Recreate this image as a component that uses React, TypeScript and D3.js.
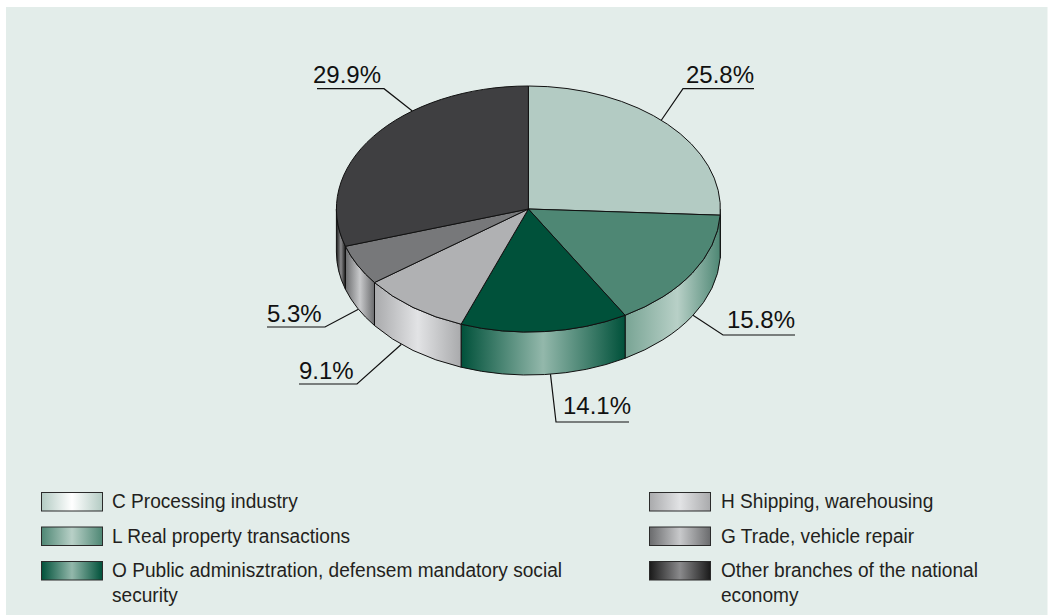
import React from "react";
import * as d3 from "d3";

// Share of each branch, clockwise from twelve o'clock
const branches = ["C", "L", "O", "H", "G", "Other"];
const shares = [25.8, 15.8, 14.1, 9.1, 5.3, 29.9];
const shareLabels = ["25.8%", "15.8%", "14.1%", "9.1%", "5.3%", "29.9%"];

const topColors = ["#b3cbc3", "#4e8774", "#00513a", "#b0b1b3", "#77787a", "#3f3f41"];
const sideEdgeColors = ["#b3cbc3", "#4e8774", "#00513a", "#a9aaac", "#6a6b6d", "#1a1a1a"];
const sideMidColors = ["#ffffff", "#b8d0c7", "#93b8ab", "#e2e3e5", "#c8c9cb", "#8a8a8c"];

const legendLeft = [
  { branch: 0, lines: ["C Processing industry"] },
  { branch: 1, lines: ["L Real property transactions"] },
  { branch: 2, lines: ["O Public adminisztration, defensem mandatory social", "security"] },
];
const legendRight = [
  { branch: 3, lines: ["H Shipping, warehousing"] },
  { branch: 4, lines: ["G Trade, vehicle repair"] },
  { branch: 5, lines: ["Other branches of the national", "economy"] },
];

// Pie geometry
const cx = 528.4;
const cy = 209;
const rx = 192;
const ry = 123;
const depth = 43;

// Leader lines: where each one leaves the rim, its elbow and the far end of the shelf
const leaders = [
  { branch: 0, deg: 43.8, drop: 0, elbow: [683, 88.7], end: 754, textX: 686, baseline: 83 },
  { branch: 1, deg: 121, drop: depth, elbow: [723, 335], end: 795, textX: 727, baseline: 328 },
  { branch: 2, deg: 173.4, drop: depth, elbow: [556, 422], end: 629, textX: 563, baseline: 414 },
  { branch: 3, deg: 221.4, drop: depth, elbow: [357, 384], end: 299, textX: 299, baseline: 379 },
  { branch: 4, deg: 242.3, drop: depth, elbow: [325, 327], end: 267, textX: 267, baseline: 322 },
  { branch: 5, deg: 322.8, drop: 0, elbow: [384, 88.7], end: 317, textX: 313, baseline: 83 },
];

const pieLayout = d3.pie<number>().sort(null).value((d) => d).startAngle(0).endAngle(2 * Math.PI);
const slices = pieLayout(shares);

const px = (a: number) => cx + rx * Math.sin(a);
const py = (a: number) => cy - ry * Math.cos(a);

function topPath(a0: number, a1: number) {
  const large = a1 - a0 > Math.PI ? 1 : 0;
  return `M${cx},${cy}L${px(a0)},${py(a0)}A${rx},${ry} 0 ${large} 1 ${px(a1)},${py(a1)}Z`;
}

function sidePath(a0: number, a1: number) {
  return (
    `M${px(a0)},${py(a0)}A${rx},${ry} 0 0 1 ${px(a1)},${py(a1)}` +
    `L${px(a1)},${py(a1) + depth}A${rx},${ry} 0 0 0 ${px(a0)},${py(a0) + depth}Z`
  );
}

const FONT_LABEL = "'Liberation Sans', Arial, sans-serif";

function LegendColumn({ items, swatchX, textX }: { items: typeof legendLeft; swatchX: number; textX: number }) {
  const rowY = d3.scaleOrdinal<number, number>().domain([0, 1, 2]).range([492, 526.5, 561]);
  return (
    <g>
      {items.map((item, i) => (
        <g key={item.branch}>
          <rect
            x={swatchX + 0.5}
            y={rowY(i) + 0.5}
            width={61}
            height={18.5}
            fill={`url(#swatch-${item.branch})`}
            stroke="#2b2b2b"
            strokeWidth={1}
          />
          {item.lines.map((line, k) => (
            <text
              key={k}
              transform={`translate(${textX},${rowY(i) + 16 + k * 25}) scale(0.91,1)`}
              fontFamily={FONT_LABEL}
              fontSize={21}
              fill="#231f20"
            >
              {line}
            </text>
          ))}
        </g>
      ))}
    </g>
  );
}

export default function App() {
  const visible = slices
    .map((s, i) => ({ i, a0: Math.max(s.startAngle, Math.PI / 2), a1: Math.min(s.endAngle, (3 * Math.PI) / 2) }))
    .filter((s) => s.a1 > s.a0);

  return (
    <svg width={1048} height={615} style={{ position: "absolute", left: 0, top: 0, display: "block" }}>
      <defs>
        {branches.map((b, i) => {
          const s = slices[i];
          const a0 = Math.max(s.startAngle, Math.PI / 2);
          const a1 = Math.min(s.endAngle, (3 * Math.PI) / 2);
          const xs = [px(a0), px(a1)];
          return (
            <linearGradient
              key={b}
              id={`side-${i}`}
              gradientUnits="userSpaceOnUse"
              x1={Math.min(...xs)}
              x2={Math.max(...xs)}
              y1={0}
              y2={0}
            >
              <stop offset="0" stopColor={i === 1 ? "#78a494" : sideEdgeColors[i]} />
              <stop offset={i === 1 ? "0.55" : "0.5"} stopColor={sideMidColors[i]} />
              <stop offset="1" stopColor={sideEdgeColors[i]} />
            </linearGradient>
          );
        })}
        {branches.map((b, i) => (
          <linearGradient key={b} id={`swatch-${i}`} x1="0" x2="1" y1="0" y2="0">
            <stop offset="0" stopColor={sideEdgeColors[i]} />
            <stop offset="0.5" stopColor={sideMidColors[i]} />
            <stop offset="1" stopColor={sideEdgeColors[i]} />
          </linearGradient>
        ))}
      </defs>

      <rect x={6} y={7} width={1041.5} height={608} fill="#e3edea" />

      {leaders.map((l) => {
        const a = (l.deg * Math.PI) / 180;
        const line = d3.line()([[px(a), py(a) + l.drop], l.elbow as [number, number], [l.end, l.elbow[1]]]);
        return (
          <g key={l.branch}>
            <path d={line ?? ""} fill="none" stroke="#111" strokeWidth={1.2} />
            <text x={l.textX} y={l.baseline} fontFamily={FONT_LABEL} fontSize={24} fill="#111">
              {shareLabels[l.branch]}
            </text>
          </g>
        );
      })}

      {visible.map((s) => (
        <path key={s.i} d={sidePath(s.a0, s.a1)} fill={`url(#side-${s.i})`} stroke="#111" strokeWidth={1} />
      ))}
      {slices.map((s, i) => (
        <path key={i} d={topPath(s.startAngle, s.endAngle)} fill={topColors[i]} stroke="#111" strokeWidth={1} />
      ))}

      <LegendColumn items={legendLeft} swatchX={41} textX={112} />
      <LegendColumn items={legendRight} swatchX={649} textX={721} />
    </svg>
  );
}
